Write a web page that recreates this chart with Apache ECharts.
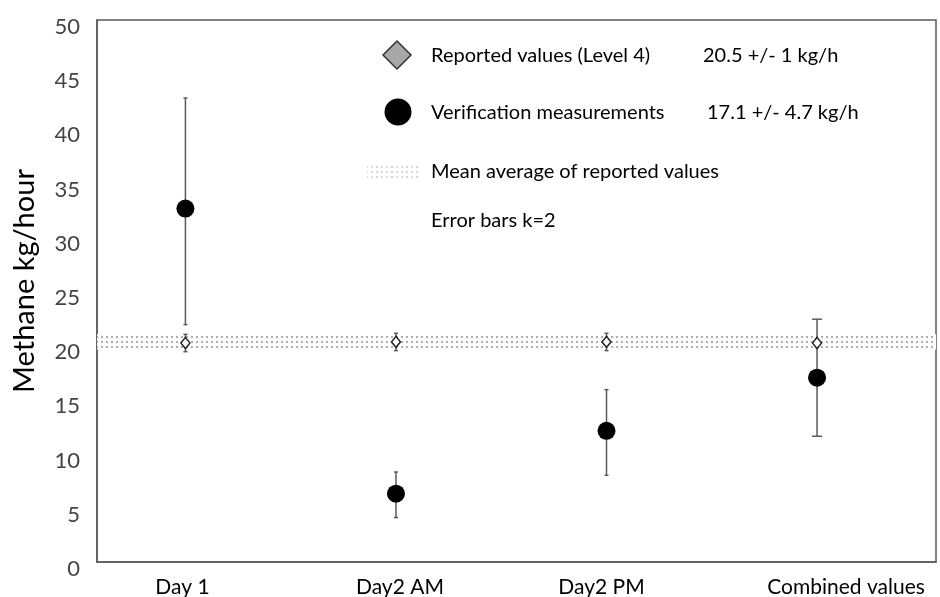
<!DOCTYPE html>
<html><head><meta charset="utf-8">
<script src="https://cdn.jsdelivr.net/npm/echarts@6/dist/echarts.min.js"></script>
<style>html,body{margin:0;padding:0;background:#fff}#c{width:940px;height:597px}</style>
</head><body><div id="c"></div>
<script>
const categories = ['Day 1', 'Day2 AM', 'Day2 PM', 'Combined values'];
const reported = [20.2, 20.3, 20.3, 20.2];
const reportedLow = [19.4, 19.5, 19.5, 19.8];
const reportedHigh = [21.0, 21.1, 21.1, 20.6];
const verification = [32.6, 6.3, 12.1, 17.0];
const verificationLow = [21.9, 4.1, 8.0, 11.6];
const verificationHigh = [42.8, 8.3, 15.9, 22.4];
const meanBand = [19.6, 21.0];
const yTicks = [0, 5, 10, 15, 20, 25, 30, 35, 40, 45, 50];

const FONT = 'Lato';
function dotPattern(color) {
  const c = document.createElement('canvas');
  c.width = 5; c.height = 5;
  const g = c.getContext('2d');
  g.fillStyle = '#ffffff'; g.fillRect(0, 0, 5, 5);
  g.fillStyle = color; g.fillRect(1, 1, 2, 2);
  return { image: c, repeat: 'repeat' };
}
const bandPattern = dotPattern('#adadad');
const legendPattern = dotPattern('#d8d8d8');

function errData(lo, hi) { return categories.map((_, i) => [i, lo[i], hi[i]]); }
function errRender(isWideLast) {
  return function (params, api) {
    const i = api.value(0);
    const lo = api.coord([i, api.value(1)]);
    const hi = api.coord([i, api.value(2)]);
    const hw = (isWideLast && params.dataIndex === 3) ? 5 : 2;
    const st = { stroke: '#5a5a5a', lineWidth: 1.5 };
    return { type: 'group', children: [
      { type: 'line', shape: { x1: lo[0], y1: lo[1], x2: hi[0], y2: hi[1] }, style: st },
      { type: 'line', shape: { x1: lo[0] - hw, y1: lo[1], x2: lo[0] + hw, y2: lo[1] }, style: st },
      { type: 'line', shape: { x1: hi[0] - hw, y1: hi[1], x2: hi[0] + hw, y2: hi[1] }, style: st }
    ]};
  };
}

const chart = echarts.init(document.getElementById('c'), null, { renderer: 'canvas' });
const legendText = { fontFamily: FONT, fontSize: 20, fill: '#000' };
const xl = { fontFamily: FONT, fontSize: 21, color: '#000' };
chart.setOption({
  animation: false,
  grid: { left: 97, right: 4, top: 20, bottom: 35, show: true, borderColor: '#5a5a5a', borderWidth: 1.5,
          outerBoundsMode: 'none', containLabel: false },
  xAxis: {
    type: 'value', min: -0.42, max: 3.565,
    splitLine: { show: false },
    axisLine: { show: true, onZero: false, lineStyle: { color: '#5a5a5a', width: 1.5 } },
    axisTick: { show: false },
    axisLabel: {
      customValues: [0, 1, 2, 3],
      margin: 15,
      fontFamily: FONT, fontSize: 21, color: '#000',
      formatter: v => '{r' + v + '|' + categories[v] + '}',
      rich: {
        r0: Object.assign({ padding: [0, 6, 0, 0] }, xl),
        r1: Object.assign({ padding: [0, 0, 0, 8] }, xl),
        r2: Object.assign({ padding: [0, 10, 0, 0] }, xl),
        r3: Object.assign({ padding: [0, 0, 0, 58] }, xl)
      }
    }
  },
  yAxis: {
    type: 'value', min: 0, max: 50, interval: 5,
    name: 'Methane kg/hour', nameLocation: 'middle', nameGap: 58,
    nameTextStyle: { fontFamily: FONT, fontSize: 29, color: '#000', padding: [0, 0, 0, 20] },
    splitLine: { show: false },
    axisLine: { show: true, onZero: false, lineStyle: { color: '#5a5a5a', width: 1.5 } },
    axisTick: { show: false },
    axisLabel: {
      margin: 17, fontFamily: FONT, fontSize: 22, color: '#444',
      formatter: v => yTicks.includes(v) ? '{a|' + v + '}' : '',
      rich: { a: { fontFamily: FONT, fontSize: 22, color: '#444', padding: [14, 0, 0, 0] } }
    }
  },
  series: [
    {
      type: 'scatter', name: 'band', data: [], silent: true, z: 1,
      markArea: {
        silent: true,
        itemStyle: { color: bandPattern, opacity: 1 },
        data: [[{ yAxis: meanBand[0], x: 97 }, { yAxis: meanBand[1], x: 936 }]]
      }
    },
    {
      type: 'custom', name: 'verr', z: 3,
      data: errData(verificationLow, verificationHigh),
      renderItem: errRender(true), encode: { x: 0, y: [1, 2] }
    },
    {
      type: 'custom', name: 'rerr', z: 3,
      data: errData(reportedLow, reportedHigh),
      renderItem: errRender(false), encode: { x: 0, y: [1, 2] }
    },
    {
      type: 'scatter', name: 'Verification measurements', z: 5,
      symbol: 'circle', symbolSize: 18,
      itemStyle: { color: '#000', opacity: 1 },
      data: verification.map((v, i) => [i, v])
    },
    {
      type: 'scatter', name: 'Reported values (Level 4)', z: 6,
      symbol: 'diamond', symbolSize: [9, 11],
      itemStyle: { color: '#fff', borderColor: '#222', borderWidth: 1.5, opacity: 1 },
      data: reported.map((v, i) => [i, v])
    }
  ],
  graphic: [
    { type: 'polygon', shape: { points: [[397, 41], [411, 55], [397, 69], [383, 55]] },
      style: { fill: '#a8a8a8', stroke: '#333', lineWidth: 1.5 } },
    { type: 'text', x: 431, y: 56, style: Object.assign({ text: 'Reported values (Level 4)', verticalAlign: 'middle' }, legendText) },
    { type: 'text', x: 703, y: 56, style: Object.assign({ text: '20.5 +/- 1 kg/h', verticalAlign: 'middle' }, legendText) },
    { type: 'circle', shape: { cx: 398, cy: 112, r: 13.5 }, style: { fill: '#000' } },
    { type: 'text', x: 431, y: 113, style: Object.assign({ text: 'Verification measurements', verticalAlign: 'middle' }, legendText) },
    { type: 'text', x: 707, y: 113, style: Object.assign({ text: '17.1 +/- 4.7 kg/h', verticalAlign: 'middle' }, legendText) },
    { type: 'rect', shape: { x: 367, y: 164, width: 53, height: 16 }, style: { fill: legendPattern } },
    { type: 'text', x: 431, y: 172, style: Object.assign({ text: 'Mean average of reported values', verticalAlign: 'middle' }, legendText) },
    { type: 'text', x: 431, y: 221, style: Object.assign({ text: 'Error bars k=2', verticalAlign: 'middle' }, legendText) }
  ]
});
</script></body></html>
